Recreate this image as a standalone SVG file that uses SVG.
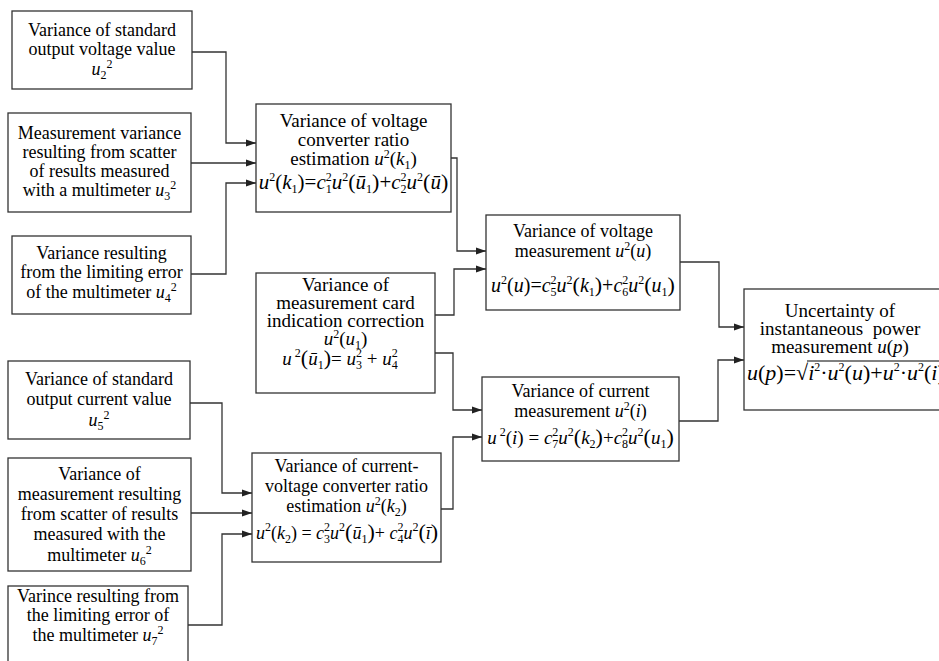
<svg xmlns="http://www.w3.org/2000/svg" width="939" height="661" viewBox="0 0 939 661">
<defs>
<style>
.bx{fill:#fff;stroke:#333;stroke-width:1.3}
.t{font-family:"Liberation Serif","Times New Roman",serif;font-size:18px;text-anchor:middle;fill:#000}
.g{font-size:19px}
.h{font-size:19px}
.f{font-family:"Liberation Serif","Times New Roman",serif;font-size:20px;text-anchor:middle;fill:#000}
.i{font-style:italic}
.s{font-size:12px}
.p{font-size:22px}
.c{fill:none;stroke:#333;stroke-width:1.3;marker-end:url(#ah)}
</style>
<marker id="ah" markerWidth="11" markerHeight="8" refX="10" refY="4" orient="auto" markerUnits="userSpaceOnUse"><path d="M0,0.5 L10,4 L0,7.5 z" fill="#222"/></marker>
</defs>
<rect width="939" height="661" fill="#fff"/>

<g id="connectors">
<path class="c" d="M192,52 H226 V143 H256"/>
<path class="c" d="M191,163 H256"/>
<path class="c" d="M191,274 H226 V183 H256"/>
<path class="c" d="M451,158 H457 V251 H486"/>
<path class="c" d="M435,315 H454 V269 H486"/>
<path class="c" d="M435,353 H453 V410 H482"/>
<path class="c" d="M441,509 H453 V437 H482"/>
<path class="c" d="M190,403 H222 V493 H252"/>
<path class="c" d="M191,513 H252"/>
<path class="c" d="M188,625 H222 V534 H252"/>
<path class="c" d="M680,262 H719 V327 H744"/>
<path class="c" d="M679,421 H718 V360 H744"/>
</g>

<g id="n-u2">
<rect class="bx" x="12" y="11" width="180" height="78"/>
<text class="t" x="102" y="36">Variance of standard</text>
<text class="t" x="102" y="55">output voltage value</text>
<text class="t" x="102" y="75"><tspan class="i">u</tspan><tspan class="s" dy="4">2</tspan><tspan class="s" dy="-11">2</tspan></text>
</g>

<g id="n-u3">
<rect class="bx" x="8" y="113" width="183" height="99"/>
<text class="t" x="99.5" y="139">Measurement variance</text>
<text class="t" x="99.5" y="158">resulting from scatter</text>
<text class="t" x="99.5" y="177">of results measured</text>
<text class="t" x="99.5" y="196">with a multimeter <tspan class="i">u</tspan><tspan class="s" dy="4">3</tspan><tspan class="s" dy="-11">2</tspan></text>
</g>

<g id="n-u4">
<rect class="bx" x="12" y="236" width="179" height="78"/>
<text class="t" x="101.5" y="259">Variance resulting</text>
<text class="t" x="101.5" y="278">from the limiting error</text>
<text class="t" x="101.5" y="298">of the multimeter <tspan class="i">u</tspan><tspan class="s" dy="4">4</tspan><tspan class="s" dy="-11">2</tspan></text>
</g>

<g id="n-u5">
<rect class="bx" x="8" y="361" width="182" height="78"/>
<text class="t" x="99" y="385">Variance of standard</text>
<text class="t" x="99" y="405">output current value</text>
<text class="t" x="99" y="426"><tspan class="i">u</tspan><tspan class="s" dy="4">5</tspan><tspan class="s" dy="-11">2</tspan></text>
</g>

<g id="n-u6">
<rect class="bx" x="8" y="458" width="183" height="113"/>
<text class="t" x="99.5" y="480">Variance of</text>
<text class="t" x="99.5" y="500">measurement resulting</text>
<text class="t" x="99.5" y="520">from scatter of results</text>
<text class="t" x="99.5" y="540">measured with the</text>
<text class="t" x="99.5" y="561">multimeter <tspan class="i">u</tspan><tspan class="s" dy="4">6</tspan><tspan class="s" dy="-11">2</tspan></text>
</g>

<g id="n-u7">
<rect class="bx" x="8" y="586" width="180" height="80"/>
<text class="t" x="98" y="602">Varince resulting from</text>
<text class="t" x="98" y="621">the limiting error of</text>
<text class="t" x="98" y="641">the multimeter <tspan class="i">u</tspan><tspan class="s" dy="4">7</tspan><tspan class="s" dy="-11">2</tspan></text>
</g>

<g id="n-k1">
<rect class="bx" x="256" y="104" width="195" height="108"/>
<text class="t g" x="353.5" y="127">Variance of voltage</text>
<text class="t g" x="353.5" y="146">converter ratio</text>
<text class="t g" x="353.5" y="165">estimation <tspan class="i">u</tspan><tspan class="s" dy="-7">2</tspan><tspan dy="7">(</tspan><tspan class="i">k</tspan><tspan class="s" dy="4">1</tspan><tspan dy="-4">)</tspan></text>
<text class="f" x="353.5" y="189" style="font-size:21px"><tspan class="i">u</tspan><tspan class="s" dy="-8">2</tspan><tspan dy="8">(</tspan><tspan class="i">k</tspan><tspan class="s" dy="4">1</tspan><tspan dy="-4">)=</tspan><tspan class="i">c</tspan><tspan class="s" dy="-8">2</tspan><tspan class="s" dx="-6" dy="12">1</tspan><tspan class="i" dy="-4">u</tspan><tspan class="s" dy="-8">2</tspan><tspan class="p" dy="8">(</tspan><tspan class="i">ū</tspan><tspan class="s" dy="4">1</tspan><tspan class="p" dy="-4">)</tspan>+<tspan class="i">c</tspan><tspan class="s" dy="-8">2</tspan><tspan class="s" dx="-6" dy="12">2</tspan><tspan class="i" dy="-4">u</tspan><tspan class="s" dy="-8">2</tspan><tspan class="p" dy="8">(</tspan><tspan class="i">ū</tspan><tspan class="p">)</tspan></text>
</g>

<g id="n-u1">
<rect class="bx" x="256" y="273" width="179" height="120"/>
<text class="t h" x="345.5" y="291">Variance of</text>
<text class="t h" x="345.5" y="309">measurement card</text>
<text class="t h" x="345.5" y="327">indication correction</text>
<text class="t h" x="345.5" y="345"><tspan class="i">u</tspan><tspan class="s" dy="-7">2</tspan><tspan dy="7">(</tspan><tspan class="i">u</tspan><tspan class="s" dy="4">1</tspan><tspan dy="-4">)</tspan></text>
<text class="f" x="340" y="365" style="font-size:19px"><tspan class="i">u</tspan><tspan class="s" dy="-8"> 2</tspan><tspan class="p" dy="8">(</tspan><tspan class="i">ū</tspan><tspan class="s" dy="4">1</tspan><tspan class="p" dy="-4">)</tspan>= <tspan class="i">u</tspan><tspan class="s" dy="-8">2</tspan><tspan class="s" dx="-6" dy="12">3</tspan><tspan dy="-4"> + </tspan><tspan class="i">u</tspan><tspan class="s" dy="-8">2</tspan><tspan class="s" dx="-6" dy="12">4</tspan></text>
</g>

<g id="n-k2">
<rect class="bx" x="252" y="453" width="189" height="109"/>
<text class="t" x="346.5" y="472">Variance of current-</text>
<text class="t" x="346.5" y="492">voltage converter ratio</text>
<text class="t" x="346.5" y="512">estimation <tspan class="i">u</tspan><tspan class="s" dy="-7">2</tspan><tspan dy="7">(</tspan><tspan class="i">k</tspan><tspan class="s" dy="4">2</tspan><tspan dy="-4">)</tspan></text>
<text class="f" x="347" y="539" style="font-size:18px"><tspan class="i">u</tspan><tspan class="s" dy="-8">2</tspan><tspan dy="8">(</tspan><tspan class="i">k</tspan><tspan class="s" dy="4">2</tspan><tspan dy="-4">) = </tspan><tspan class="i">c</tspan><tspan class="s" dy="-8">2</tspan><tspan class="s" dx="-6" dy="12">3</tspan><tspan class="i" dy="-4">u</tspan><tspan class="s" dy="-8">2</tspan><tspan class="p" dy="8">(</tspan><tspan class="i">ū</tspan><tspan class="s" dy="4">1</tspan><tspan class="p" dy="-4">)</tspan>+ <tspan class="i">c</tspan><tspan class="s" dy="-8">2</tspan><tspan class="s" dx="-6" dy="12">4</tspan><tspan class="i" dy="-4">u</tspan><tspan class="s" dy="-8">2</tspan><tspan class="p" dy="8">(</tspan><tspan class="i">ī</tspan><tspan class="p">)</tspan></text>
</g>

<g id="n-u">
<rect class="bx" x="486" y="215" width="194" height="95"/>
<text class="t" x="583" y="237">Variance of voltage</text>
<text class="t" x="583" y="257">measurement <tspan class="i">u</tspan><tspan class="s" dy="-7">2</tspan><tspan dy="7">(</tspan><tspan class="i">u</tspan>)</text>
<text class="f" x="583" y="292"><tspan class="i">u</tspan><tspan class="s" dy="-8">2</tspan><tspan dy="8">(</tspan><tspan class="i">u</tspan>)=<tspan class="i">c</tspan><tspan class="s" dy="-8">2</tspan><tspan class="s" dx="-6" dy="12">5</tspan><tspan class="i" dy="-4">u</tspan><tspan class="s" dy="-8">2</tspan><tspan class="p" dy="8">(</tspan><tspan class="i">k</tspan><tspan class="s" dy="4">1</tspan><tspan class="p" dy="-4">)</tspan>+<tspan class="i">c</tspan><tspan class="s" dy="-8">2</tspan><tspan class="s" dx="-6" dy="12">6</tspan><tspan class="i" dy="-4">u</tspan><tspan class="s" dy="-8">2</tspan><tspan class="p" dy="8">(</tspan><tspan class="i">u</tspan><tspan class="s" dy="4">1</tspan><tspan class="p" dy="-4">)</tspan></text>
</g>

<g id="n-i">
<rect class="bx" x="482" y="377" width="197" height="84"/>
<text class="t" x="580.5" y="397">Variance of current</text>
<text class="t" x="580.5" y="417">measurement <tspan class="i">u</tspan><tspan class="s" dy="-7">2</tspan><tspan dy="7">(</tspan><tspan class="i">i</tspan>)</text>
<text class="f" x="580.5" y="444" style="font-size:19px"><tspan class="i">u</tspan><tspan class="s" dy="-8"> 2</tspan><tspan dy="8">(</tspan><tspan class="i">i</tspan>) = <tspan class="i">c</tspan><tspan class="s" dy="-8">2</tspan><tspan class="s" dx="-6" dy="12">7</tspan><tspan class="i" dy="-4">u</tspan><tspan class="s" dy="-8">2</tspan><tspan class="p" dy="8">(</tspan><tspan class="i">k</tspan><tspan class="s" dy="4">2</tspan><tspan class="p" dy="-4">)</tspan>+<tspan class="i">c</tspan><tspan class="s" dy="-8">2</tspan><tspan class="s" dx="-6" dy="12">8</tspan><tspan class="i" dy="-4">u</tspan><tspan class="s" dy="-8">2</tspan><tspan class="p" dy="8">(</tspan><tspan class="i">u</tspan><tspan class="s" dy="4">1</tspan><tspan class="p" dy="-4">)</tspan></text>
</g>

<g id="n-p">
<rect class="bx" x="744" y="289" width="210" height="121"/>
<text class="t g" x="840" y="317">Uncertainty of</text>
<text class="t g" x="840" y="335" xml:space="preserve">instantaneous  power</text>
<text class="t g" x="840" y="353">measurement <tspan class="i">u</tspan>(<tspan class="i">p</tspan>)</text>
<text class="f" x="747" y="380" style="font-size:22px;text-anchor:start"><tspan class="i">u</tspan>(<tspan class="i">p</tspan>)=√<tspan class="i">i</tspan><tspan class="s" dy="-9">2</tspan><tspan dy="9">·</tspan><tspan class="i">u</tspan><tspan class="s" dy="-9">2</tspan><tspan dy="9">(</tspan><tspan class="i">u</tspan>)+<tspan class="i">u</tspan><tspan class="s" dy="-9">2</tspan><tspan dy="9">·</tspan><tspan class="i">u</tspan><tspan class="s" dy="-9">2</tspan><tspan dy="9">(</tspan><tspan class="i">i</tspan>)</text>
<line x1="807" y1="361" x2="945" y2="361" stroke="#000" stroke-width="1"/>
</g>
</svg>
